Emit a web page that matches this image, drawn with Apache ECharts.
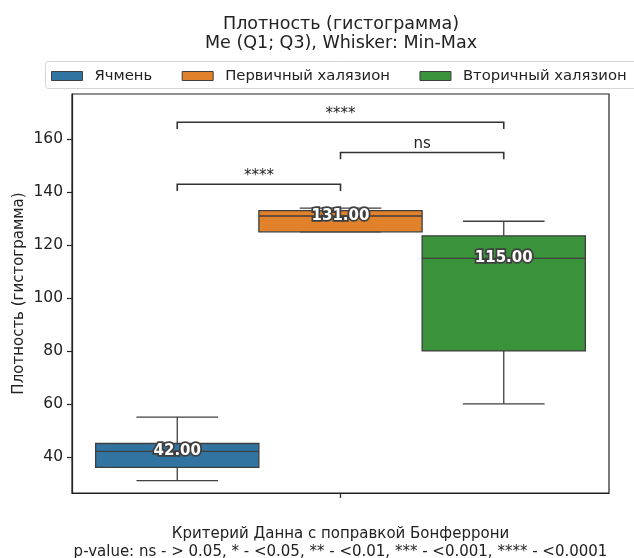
<!DOCTYPE html>
<html>
<head>
<meta charset="utf-8">
<script src="https://cdn.jsdelivr.net/npm/echarts@6/dist/echarts.min.js"></script>
<style>
html,body{margin:0;padding:0;background:#fff;}
#chart{width:634px;height:558px;}
</style>
</head>
<body>
<div id="chart"></div>
<script>
// ---- data ----
const groups = ['Ячмень', 'Первичный халязион', 'Вторичный халязион'];
const mins = [31, 125, 60];
const q1s = [36, 125, 80];
const medians = [42, 131, 115];
const q3s = [45, 133, 123.5];
const maxs = [55, 134, 129];
const medianLabels = ['42.00', '131.00', '115.00'];
const yTicks = [40, 60, 80, 100, 120, 140, 160];
const xCategories = [''];
const pairFrom = [0, 1, 0];
const pairTo = [1, 2, 2];
const pairLevels = [143, 155, 166.4];
const pairLabels = ['****', 'ns', '****'];

const colors = ['#3274a1', '#e1812c', '#3a923a'];
const FONT = 'DejaVu Sans';
const EDGE = '#3f3f3f';
const AXIS = '#222222';
const BOX_FRAC = 0.304;

const chart = echarts.init(document.getElementById('chart'));

function renderBox(params, api) {
  const k = params.seriesIndex - 1;
  const band = api.size([1, 0])[0];
  const w = band * BOX_FRAC;
  const cx = api.coord([0, api.value(3)])[0] + k * w;
  const yMin = api.coord([0, api.value(1)])[1];
  const yQ1 = api.coord([0, api.value(2)])[1];
  const yMed = api.coord([0, api.value(3)])[1];
  const yQ3 = api.coord([0, api.value(4)])[1];
  const yMax = api.coord([0, api.value(5)])[1];
  const ls = { stroke: EDGE, lineWidth: 1.3 };
  return {
    type: 'group',
    children: [
      { type: 'line', shape: { x1: cx, y1: yQ3, x2: cx, y2: yMax }, style: ls },
      { type: 'line', shape: { x1: cx, y1: yQ1, x2: cx, y2: yMin }, style: ls },
      { type: 'line', shape: { x1: cx - w / 4, y1: yMax, x2: cx + w / 4, y2: yMax }, style: ls },
      { type: 'line', shape: { x1: cx - w / 4, y1: yMin, x2: cx + w / 4, y2: yMin }, style: ls },
      { type: 'rect', shape: { x: cx - w / 2, y: yQ3, width: w, height: yQ1 - yQ3 },
        style: { fill: colors[params.seriesIndex], stroke: EDGE, lineWidth: 1.3 } },
      { type: 'line', shape: { x1: cx - w / 2, y1: yMed, x2: cx + w / 2, y2: yMed }, style: ls },
      { type: 'text', x: cx, y: yMed,
        style: { text: medianLabels[params.seriesIndex], align: 'center', verticalAlign: 'middle',
          fill: '#ffffff', stroke: EDGE, lineWidth: 3.5, font: 'bold 15px "' + FONT + '"' } }
    ]
  };
}

function renderBracket(params, api) {
  const band = api.size([1, 0])[0];
  const w = band * BOX_FRAC;
  const c0 = api.coord([0, api.value(1)])[0];
  const x1 = c0 + (api.value(2) - 1) * w;
  const x2 = c0 + (api.value(3) - 1) * w;
  const y = api.coord([0, api.value(1)])[1];
  const drop = 6.8;
  const ls = { stroke: '#333333', lineWidth: 1.6 };
  return {
    type: 'group',
    children: [
      { type: 'polyline', shape: { points: [[x1, y + drop], [x1, y], [x2, y], [x2, y + drop]] },
        style: Object.assign({ fill: null }, ls) },
      { type: 'text', x: (x1 + x2) / 2, y: y - 1,
        style: { text: pairLabels[params.dataIndex], align: 'center', verticalAlign: 'bottom',
          fill: '#222222', font: '15px "' + FONT + '"' } }
    ]
  };
}

const boxSeries = groups.map((g, i) => ({
  name: g,
  type: 'custom',
  renderItem: renderBox,
  dimensions: ['x', 'min', 'q1', 'median', 'q3', 'max'],
  encode: { x: 'x', y: ['min', 'q1', 'median', 'q3', 'max'] },
  itemStyle: { color: colors[i], borderColor: EDGE, borderWidth: 1 },
  data: [[0, mins[i], q1s[i], medians[i], q3s[i], maxs[i]]],
  z: 2
}));

const bracketSeries = {
  name: 'brackets',
  type: 'custom',
  renderItem: renderBracket,
  dimensions: ['x', 'y', 'from', 'to'],
  encode: { x: 'x', y: 'y' },
  data: pairLevels.map((lv, i) => [0, lv, pairFrom[i], pairTo[i]]),
  z: 3
};

const option = {
  animation: false,
  backgroundColor: '#ffffff',
  title: {
    text: 'Плотность (гистограмма)\nMe (Q1; Q3), Whisker: Min-Max',
    left: 341,
    textAlign: 'center',
    top: 15,
    padding: 0,
    textStyle: { fontFamily: FONT, fontSize: 17.5, fontWeight: 'normal', color: '#222222', lineHeight: 19 }
  },
  graphic: [{
    type: 'rect',
    shape: { x: 45.5, y: 61.5, width: 620, height: 27, r: 3 },
    style: { fill: 'rgba(255,255,255,0.8)', stroke: '#d6d6d6', lineWidth: 1 },
    z: 0
  }],
  legend: {
    data: groups,
    left: 51,
    top: 67,
    padding: 0,
    itemWidth: 31,
    itemHeight: 9,
    itemGap: 29.5,
    icon: 'rect',
    itemStyle: { borderColor: EDGE, borderWidth: 1 },
    textStyle: { fontFamily: FONT, fontSize: 14.8, color: '#222222', lineHeight: 18, padding: [0, 0, 0, 7] },
    z: 5
  },
  grid: {
    left: 72, right: 25, top: 94, bottom: 65,
    outerBoundsMode: 'none',
    containLabel: false,
    show: true, borderColor: AXIS, borderWidth: 1.2, backgroundColor: 'transparent'
  },
  xAxis: {
    type: 'category',
    data: xCategories,
    boundaryGap: true,
    axisLine: { lineStyle: { color: AXIS, width: 1.2 } },
    axisTick: { show: true, alignWithLabel: true, interval: 0, customValues: [0], length: 5, lineStyle: { color: AXIS, width: 1.2 } },
    axisLabel: { show: true, interval: 0, formatter: function () { return ''; } },
    splitLine: { show: false },
    name: 'Критерий Данна с поправкой Бонферрони\np-value: ns - > 0.05, * - <0.05, ** - <0.01, *** - <0.001, **** - <0.0001',
    nameLocation: 'middle',
    nameGap: 32,
    nameTextStyle: { fontFamily: FONT, fontSize: 15, color: '#222222', lineHeight: 18 }
  },
  yAxis: {
    type: 'value',
    min: 26.3,
    max: 177.1,
    axisLine: { show: true, lineStyle: { color: AXIS, width: 1.2 } },
    axisTick: { show: true, length: 5, customValues: yTicks, lineStyle: { color: AXIS, width: 1.2 } },
    axisLabel: { customValues: yTicks, margin: 9, fontFamily: FONT, fontSize: 15.5, color: '#222222' },
    splitLine: { show: false },
    name: 'Плотность (гистограмма)',
    nameLocation: 'middle',
    nameRotate: 90,
    nameGap: 45,
    nameMoveOverlap: false,
    nameTextStyle: { fontFamily: FONT, fontSize: 15, color: '#222222' }
  },
  series: boxSeries.concat([bracketSeries])
};

chart.setOption(option);
</script>
</body>
</html>
